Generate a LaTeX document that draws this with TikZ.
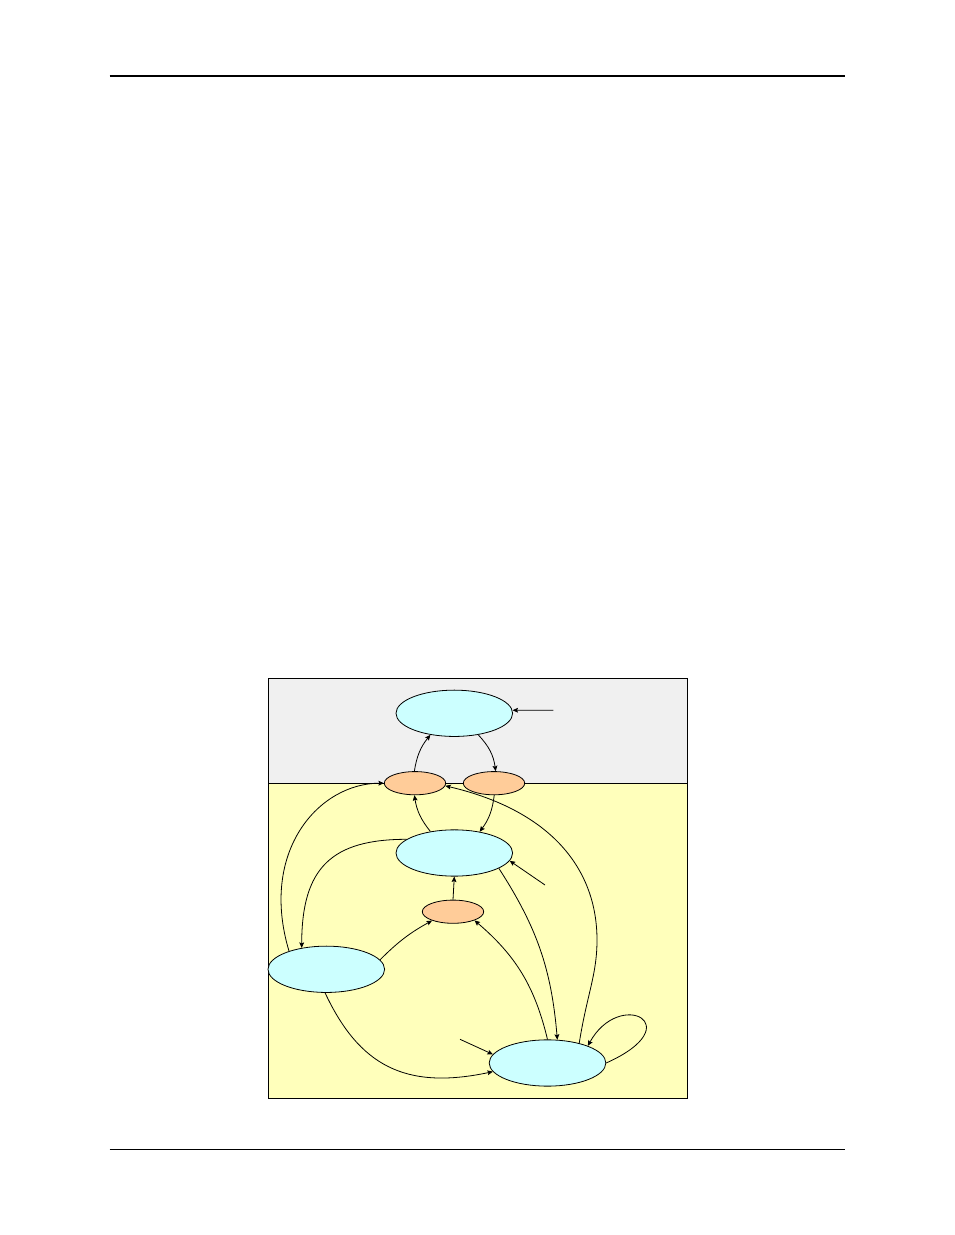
\documentclass[tikz,border=0pt]{standalone}
\usetikzlibrary{shapes.geometric,arrows.meta}
\definecolor{stcyan}{HTML}{CCFFFF}
\definecolor{storange}{HTML}{FFCC99}
\definecolor{stgrey}{HTML}{F0F0F0}
\definecolor{styellow}{HTML}{FFFFBB}
\tikzset{
  bigstate/.style={ellipse, draw=black, line width=0.8pt, fill=stcyan, minimum width=116.6pt, minimum height=46.3pt, inner sep=0pt},
  smallstate/.style={ellipse, draw=black, line width=0.8pt, fill=storange, minimum width=61.4pt, minimum height=23.2pt, inner sep=0pt},
  conn/.style={draw=black, line width=0.8pt, -{Stealth[length=5.5pt,width=4.8pt,inset=1pt]}},
  rule/.style={line width=1.3pt},
}
\begin{document}
\begin{tikzpicture}[x=1pt,y=1pt]
\useasboundingbox (0,0) rectangle (954,1235);
% page rules
\draw[rule] (109.5,1159) -- (844.5,1159);
\draw[rule] (109.5,85.7) -- (844.5,85.7);
% regions
\fill[stgrey] (268.3,451.7) rectangle (687.7,556.7);
\fill[styellow] (268.3,136.7) rectangle (687.7,451.7);
\draw[line width=1.1pt] (268.3,451.7) -- (687.7,451.7);
\draw[line width=1.1pt] (268.3,136.7) rectangle (687.7,556.7);
% states
\node[bigstate] (A) at (454.3,521.7) {};
\node[smallstate] (B) at (415,451.8) {};
\node[smallstate] (C) at (494,451.8) {};
\node[bigstate] (D) at (454.3,382) {};
\node[smallstate] (E) at (453,323.3) {};
\node[bigstate] (F) at (326.3,265.7) {};
\node[bigstate] (G) at (547.5,172) {};
% free ends and way point
\coordinate (inA) at (553.3,524.75);
\coordinate (inD) at (545,350);
\coordinate (inG) at (460,195.7);
\coordinate (rmid) at (597,295);
% connectors
\draw[conn] (inA) -- (A.3);
\draw[conn] (inD) -- (D.352);
\draw[conn] (inG) -- (G.171);
\draw[conn] (B.93) to[bend left=15] (A.222);
\draw[conn] (A.318) to[bend left=18] (C.82);
\draw[conn] (D.138) to[bend left=15] (B.267);
\draw[conn] (C.271) to[bend left=15] (D.40);
\draw[conn] (E.north) -- (D.south);
\draw[conn] (F.10) to[bend left=8] (E.203);
\draw[conn] (G.90) to[bend right=18] (E.338);
\draw[conn] (D.341) to[bend left=14] (G.67);
\draw[conn] (F.154) .. controls +(-30,100) and +(-65,0) .. (B.180);
\draw[conn] (D.164) .. controls +(-75,0) and +(0,80) .. (F.139);
\draw[conn] (G.32) .. controls +(8,50) and +(0,-35) .. (rmid)
                   .. controls +(0,70) and +(107,-25) .. (B.355);
\draw[conn] (F.267) .. controls +(34,-72.5) and +(-88,-18.7) .. (G.189);
\draw[conn] (G.0) .. controls +(85,38) and +(32,58) .. (G.23);
\end{tikzpicture}
\end{document}
